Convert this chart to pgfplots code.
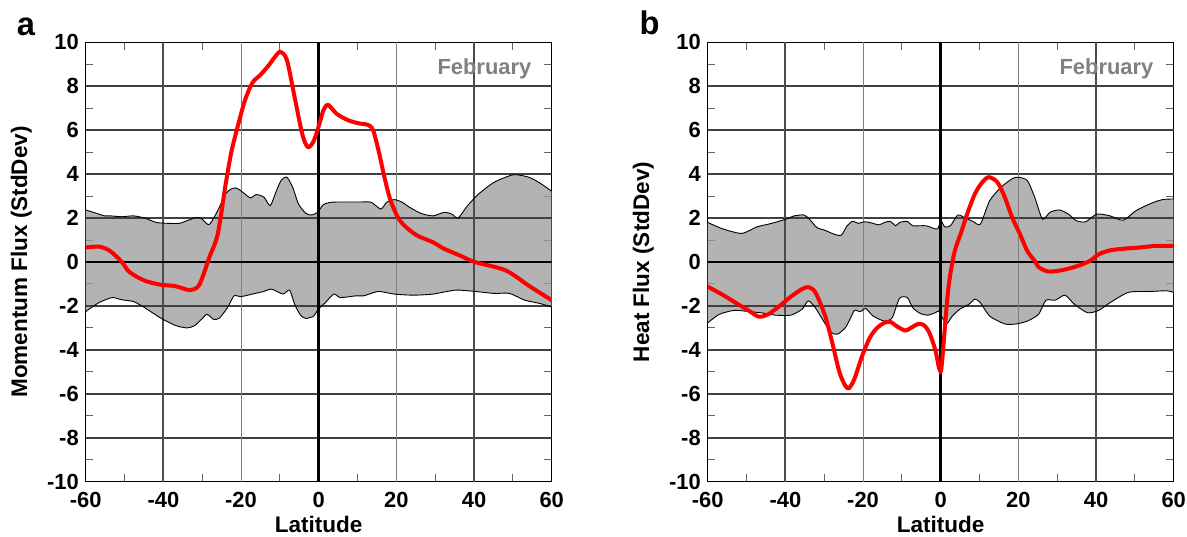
\documentclass[border=0pt]{standalone}
\usepackage{fontspec}
\setmainfont{Liberation Sans}
\usepackage{pgfplots}
\pgfplotsset{compat=1.18}
\usepackage{pgfplotstable}
\usepgfplotslibrary{fillbetween}

\definecolor{bandc}{gray}{0.6}
\definecolor{febc}{gray}{0.5}

% ---------------- Panel a data ----------------
\pgfplotstableread{
x y
-60.0 2.37
-56.6 2.18
-55.2 2.10
-53.7 2.10
-50.7 2.06
-47.7 2.10
-44.8 2.00
-41.8 1.80
-38.8 1.76
-35.9 1.76
-33.9 1.88
-31.4 2.03
-30.0 1.95
-28.2 1.70
-26.0 2.34
-24.0 3.10
-22.5 3.33
-21.1 3.36
-19.6 3.18
-17.6 2.92
-16.1 3.07
-14.1 2.95
-12.5 2.56
-11.2 3.10
-9.7 3.71
-8.2 3.86
-6.7 3.40
-5.2 2.64
-3.3 2.21
-1.8 2.14
-0.3 2.26
1.2 2.61
3.2 2.72
6.6 2.73
10.6 2.73
13.5 2.72
16.0 2.41
17.5 2.72
19.5 2.84
21.5 2.72
23.4 2.49
26.4 2.21
29.4 2.10
32.3 2.26
34.3 2.18
35.9 2.00
38.3 2.56
41.2 3.10
45.2 3.63
50.1 3.97
54.1 3.86
57.0 3.59
60.0 3.22
}\upA

\pgfplotstableread{
x y
-60.0 -2.26
-56.6 -1.85
-53.2 -1.62
-50.7 -1.72
-47.7 -1.80
-44.8 -2.08
-40.8 -2.54
-36.9 -2.89
-33.9 -3.00
-31.9 -2.89
-30.0 -2.57
-28.7 -2.38
-27.0 -2.62
-25.5 -2.54
-23.5 -2.08
-21.8 -1.54
-20.1 -1.58
-17.1 -1.46
-14.1 -1.34
-12.2 -1.23
-9.2 -1.46
-7.5 -1.28
-6.2 -1.92
-4.7 -2.42
-3.3 -2.57
-1.3 -2.46
-0.1 -2.15
1.7 -1.85
3.9 -1.46
5.6 -1.62
9.6 -1.54
11.6 -1.54
13.0 -1.46
15.5 -1.34
19.5 -1.46
24.4 -1.51
29.4 -1.46
35.3 -1.28
40.2 -1.34
45.2 -1.43
49.1 -1.43
53.1 -1.74
57.0 -1.89
60.0 -2.05
}\loA

\pgfplotstableread{
x y
-60.0 0.66
-56.6 0.70
-53.7 0.50
-50.7 0.00
-48.7 -0.46
-44.8 -0.85
-40.8 -1.03
-36.9 -1.10
-33.2 -1.28
-30.9 -1.08
-29.0 -0.23
-28.2 0.20
-26.0 1.27
-24.0 3.50
-22.5 5.00
-21.1 6.00
-19.1 7.30
-17.1 8.15
-15.1 8.50
-13.1 8.90
-11.2 9.35
-9.9 9.56
-8.2 9.20
-6.2 7.50
-4.2 5.80
-2.8 5.24
-1.3 5.50
0.2 6.30
1.2 6.90
2.4 7.15
4.6 6.75
7.6 6.45
10.6 6.30
12.6 6.25
14.0 6.00
15.5 5.00
17.0 3.80
18.5 2.80
20.5 2.00
22.4 1.60
25.4 1.20
29.4 0.90
32.3 0.60
36.3 0.30
40.2 0.00
48.1 -0.38
54.1 -1.08
60.0 -1.74
}\redA

% ---------------- Panel b data ----------------
\pgfplotstableread{
x y
-60.0 1.80
-56.0 1.50
-51.2 1.30
-47.3 1.60
-43.5 1.76
-39.9 1.95
-37.7 2.10
-35.2 2.14
-33.8 1.95
-31.9 1.57
-29.9 1.45
-27.5 1.27
-25.6 1.22
-24.1 1.65
-22.7 1.85
-21.2 1.76
-19.8 1.83
-18.3 1.80
-15.9 1.69
-14.5 1.80
-13.0 1.85
-11.6 1.65
-10.6 1.80
-8.6 1.85
-7.2 1.65
-3.8 1.65
-0.9 1.50
0.05 1.88
1.0 1.60
2.5 1.65
4.4 2.14
6.3 2.00
8.3 1.85
10.2 1.72
12.6 2.79
15.5 3.40
18.4 3.79
19.9 3.86
22.3 3.71
24.2 2.95
26.2 1.95
28.1 2.26
30.5 2.37
32.9 2.18
34.9 1.88
37.3 1.83
40.2 2.18
43.6 2.10
47.0 1.90
50.3 2.34
54.2 2.67
57.1 2.84
60.0 2.87
}\upB

\pgfplotstableread{
x y
-60.0 -2.77
-57.0 -2.38
-53.1 -2.20
-49.3 -2.26
-46.4 -2.31
-42.5 -2.42
-38.6 -2.42
-35.7 -2.15
-34.1 -1.77
-32.3 -2.08
-29.9 -2.77
-28.0 -3.23
-26.5 -3.28
-24.6 -3.00
-23.4 -2.62
-22.2 -2.20
-20.7 -2.26
-19.3 -2.12
-17.4 -2.46
-14.5 -2.69
-12.5 -2.54
-10.6 -1.65
-8.6 -1.62
-7.2 -2.08
-5.3 -2.34
-3.3 -2.42
-1.4 -2.31
-0.5 -2.23
0.2 -2.46
1.5 -2.82
3.0 -2.46
4.9 -2.15
7.3 -1.92
8.8 -1.69
10.2 -1.85
12.6 -2.46
16.5 -2.82
19.4 -2.82
22.3 -2.69
25.2 -2.38
27.1 -1.74
29.5 -1.74
32.0 -1.51
34.4 -1.92
37.8 -2.31
40.7 -2.20
43.6 -1.85
48.4 -1.38
54.2 -1.34
58.1 -1.31
60.0 -1.38
}\loB

\pgfplotstableread{
x y
-60.0 -1.12
-56.0 -1.51
-52.2 -1.92
-49.3 -2.23
-46.8 -2.49
-44.4 -2.38
-41.5 -2.00
-38.6 -1.58
-35.7 -1.23
-34.0 -1.15
-32.3 -1.38
-29.9 -2.38
-28.0 -3.62
-26.1 -5.00
-24.6 -5.62
-23.6 -5.74
-22.2 -5.31
-20.3 -4.31
-18.3 -3.46
-16.4 -3.00
-14.5 -2.77
-13.0 -2.72
-11.1 -2.95
-9.1 -3.12
-7.7 -3.00
-5.8 -2.82
-4.3 -2.88
-2.9 -3.23
-1.4 -4.00
-0.5 -4.77
0.05 -4.97
0.5 -4.23
1.2 -2.69
2.0 -1.15
3.0 0.00
3.9 0.66
5.4 1.42
6.8 2.18
8.8 3.10
10.7 3.63
12.4 3.86
14.6 3.63
16.5 2.95
18.4 2.03
20.4 1.27
22.3 0.50
24.2 0.05
25.2 -0.23
27.6 -0.43
31.0 -0.38
34.4 -0.23
36.8 -0.08
38.7 0.08
40.7 0.35
43.6 0.53
47.4 0.61
51.3 0.66
55.2 0.73
60.0 0.73
}\redB

\tikzset{
  hgrid/.style={black!75, line width=0.9bp},
  vgridA/.style={black!70, line width=1bp},
  vgridB/.style={black!50, line width=0.5bp},
  zgrid/.style={black, line width=1.3bp},
}

\newcommand{\bggrid}{%
  \draw[hgrid] (-60,-8) -- (60,-8);
  \draw[hgrid] (-60,-6) -- (60,-6);
  \draw[hgrid] (-60,-4) -- (60,-4);
  \draw[hgrid] (-60,-2) -- (60,-2);
  \draw[hgrid] (-60,2) -- (60,2);
  \draw[hgrid] (-60,4) -- (60,4);
  \draw[hgrid] (-60,6) -- (60,6);
  \draw[hgrid] (-60,8) -- (60,8);
  \draw[vgridA] (-40,-10) -- (-40,10);
  \draw[vgridA] (40,-10) -- (40,10);
  \draw[vgridB] (-20,-10) -- (-20,10);
  \draw[vgridB] (20,-10) -- (20,10);
}
\newcommand{\zerolines}{%
  \draw[zgrid] (-60,0) -- (60,0);
  \draw[zgrid] (0,-10) -- (0,10);
}

\pgfplotsset{
  panel/.style={
    scale only axis, width=233bp, height=219.7bp,
    xmin=-60, xmax=60, ymin=-10, ymax=10,
    xtick={-60,-40,-20,0,20,40,60},
    xticklabels={-60,-40,-20,0,20,40,60},
    ytick={-10,-8,-6,-4,-2,0,2,4,6,8,10},
    yticklabels={-10,-8,-6,-4,-2,0,2,4,6,8,10},
    minor x tick num=1, minor y tick num=1,
    major tick length=0pt, minor tick length=3.8bp,
    minor tick style={black!60, line width=0.5bp},
    axis line style={black, line width=0.7bp},
    tick label style={font=\fontsize{11}{13}\selectfont\bfseries},
    xticklabel style={anchor=north, inner sep=0pt, yshift=-5bp},
    yticklabel style={anchor=east, inner sep=0pt, xshift=-3.3bp},
    every axis x label/.style={at={(axis description cs:0.5,-0.0963)}, anchor=center,
       font=\fontsize{11.3}{13}\selectfont\bfseries},
    every axis y label/.style={at={(axis description cs:-0.1383,0.5)}, rotate=90, anchor=center,
       font=\fontsize{11.3}{13}\selectfont\bfseries},
    xlabel={Latitude},
  },
}

\begin{document}
\begin{tikzpicture}
\begin{axis}[panel, name=A, at={(0,0)}, anchor=south west,
  ylabel={Momentum Flux (StdDev)}]
  \bggrid
  \addplot[draw=none, name path=UA, smooth, tension=0.4] table {\upA};
  \addplot[draw=none, name path=LA, smooth, tension=0.4] table {\loA};
  \addplot[fill=bandc, fill opacity=0.75, draw=none] fill between[of=UA and LA];
  \addplot[black, line width=0.45bp, smooth, tension=0.4] table {\upA};
  \addplot[black, line width=0.45bp, smooth, tension=0.4] table {\loA};
  \zerolines
  \addplot[red, line width=2bp, smooth, tension=0.5] table {\redA};
  \node[anchor=north east, inner sep=0pt, text=febc,
        font=\fontsize{11}{13}\selectfont\bfseries,
        xshift=-10bp, yshift=-7.85bp] at (rel axis cs:1,1) {February};
\end{axis}
\begin{axis}[panel, name=B, at={(311bp,0)}, anchor=south west,
  ylabel={Heat Flux (StdDev)}]
  \bggrid
  \addplot[draw=none, name path=UB, smooth, tension=0.4] table {\upB};
  \addplot[draw=none, name path=LB, smooth, tension=0.4] table {\loB};
  \addplot[fill=bandc, fill opacity=0.75, draw=none] fill between[of=UB and LB];
  \addplot[black, line width=0.45bp, smooth, tension=0.4] table {\upB};
  \addplot[black, line width=0.45bp, smooth, tension=0.4] table {\loB};
  \zerolines
  \addplot[red, line width=2bp, smooth, tension=0.5] table {\redB};
  \node[anchor=north east, inner sep=0pt, text=febc,
        font=\fontsize{11}{13}\selectfont\bfseries,
        xshift=-10bp, yshift=-7.85bp] at (rel axis cs:1,1) {February};
\end{axis}
\node[font=\fontsize{16.4}{18}\selectfont\bfseries, inner sep=0pt, anchor=center]
  at ([xshift=-29.85bp, yshift=7.9bp]A.north west) {a};
\node[font=\fontsize{16.4}{18}\selectfont\bfseries, inner sep=0pt, anchor=center]
  at ([xshift=-29.1bp, yshift=9.65bp]B.north west) {b};
\pgfresetboundingbox
\path[use as bounding box] (-42.85bp,-27.65bp) rectangle (550.65bp,240.85bp);
\end{tikzpicture}
\end{document}
